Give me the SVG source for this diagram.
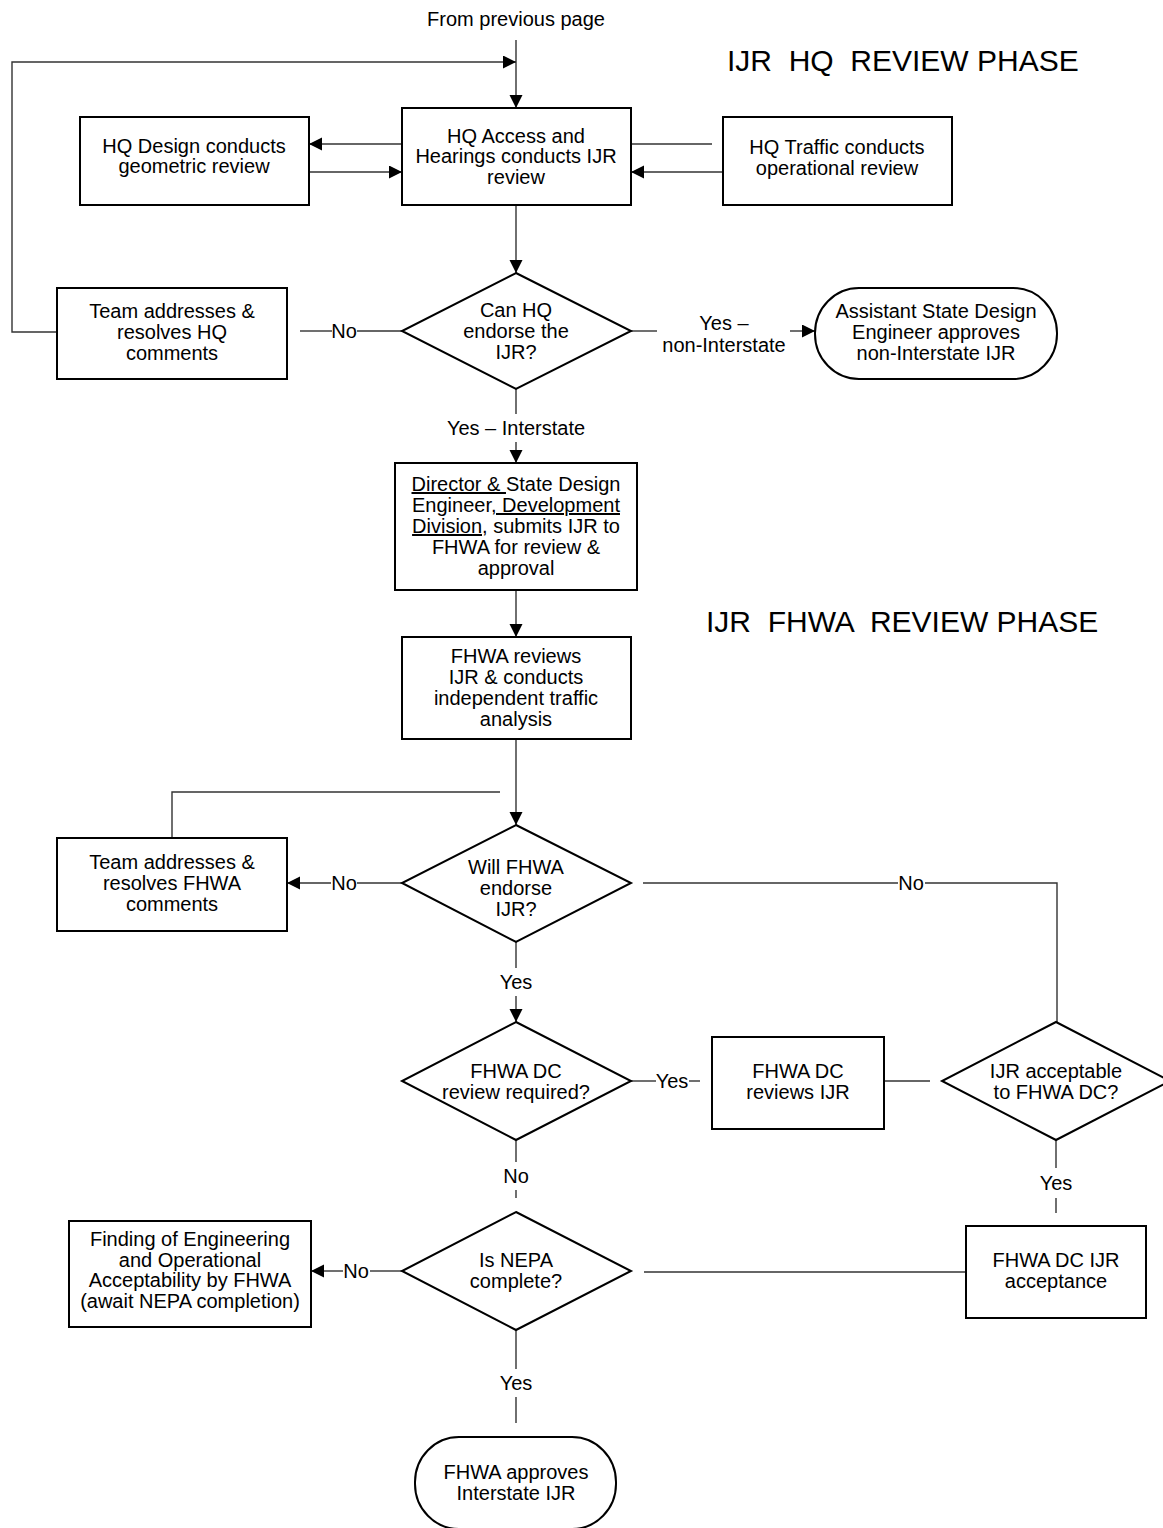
<svg xmlns="http://www.w3.org/2000/svg" width="1163" height="1528" viewBox="0 0 1163 1528">
<defs>
<marker id="ah" markerUnits="userSpaceOnUse" markerWidth="14" markerHeight="14" refX="13" refY="6.5" orient="auto">
<path d="M0,0 L13,6.5 L0,13 z" fill="#000"/>
</marker>
</defs>
<style>
.node rect, .node polygon {fill:#fff; stroke:#000; stroke-width:2}
text {font-family:"Liberation Sans", Arial, sans-serif; font-size:20px; fill:#000; text-anchor:middle}
.title {font-size:30px; text-anchor:start; white-space:pre}
.c line, .c path {stroke:#333; stroke-width:1.4; fill:none}
.a {marker-end:url(#ah)}
.u {text-decoration:underline}
</style>
<rect width="1163" height="1528" fill="#fff"/>

<text x="516" y="26">From previous page</text>
<text class="title" x="727" y="71" xml:space="preserve">IJR  HQ  REVIEW PHASE</text>
<text class="title" x="706" y="632" xml:space="preserve">IJR  FHWA  REVIEW PHASE</text>

<g id="connectors" class="c">
<line class="a" x1="516" y1="40" x2="516" y2="108"/>
<path class="a" d="M57,332 H12 V62 H516"/>
<line class="a" x1="402" y1="144" x2="309" y2="144"/>
<line class="a" x1="309" y1="172" x2="402" y2="172"/>
<line x1="631" y1="144" x2="712" y2="144"/>
<line class="a" x1="723" y1="172" x2="631" y2="172"/>
<line class="a" x1="516" y1="205" x2="516" y2="273"/>
<line x1="300" y1="331" x2="332" y2="331"/>
<line x1="357" y1="331" x2="402" y2="331"/>
<line x1="631" y1="331" x2="657" y2="331"/>
<line class="a" x1="790" y1="331" x2="815" y2="331"/>
<line x1="516" y1="389" x2="516" y2="414"/>
<line class="a" x1="516" y1="442" x2="516" y2="463"/>
<line class="a" x1="516" y1="590" x2="516" y2="637"/>
<line class="a" x1="516" y1="739" x2="516" y2="825"/>
<path d="M172,838 V792 H500"/>
<line x1="402" y1="883" x2="357" y2="883"/>
<line class="a" x1="331" y1="883" x2="287" y2="883"/>
<line x1="643" y1="883" x2="898" y2="883"/>
<path d="M925,883 H1057 V1022"/>
<line x1="516" y1="942" x2="516" y2="968"/>
<line class="a" x1="516" y1="996" x2="516" y2="1022"/>
<line x1="631" y1="1081" x2="656" y2="1081"/>
<line x1="689" y1="1081" x2="700" y2="1081"/>
<line x1="884" y1="1081" x2="930" y2="1081"/>
<line x1="1056" y1="1140" x2="1056" y2="1168"/>
<line x1="1056" y1="1198" x2="1056" y2="1213"/>
<line x1="966" y1="1272" x2="644" y2="1272"/>
<line x1="516" y1="1140" x2="516" y2="1162"/>
<line x1="516" y1="1190" x2="516" y2="1198"/>
<line x1="402" y1="1271" x2="370" y2="1271"/>
<line class="a" x1="343" y1="1271" x2="311" y2="1271"/>
<line x1="516" y1="1330" x2="516" y2="1369"/>
<line x1="516" y1="1397" x2="516" y2="1423"/>
<text x="344" y="338">No</text>
<text x="724" y="330">Yes –</text>
<text x="724" y="352">non-Interstate</text>
<text x="516" y="435">Yes – Interstate</text>
<text x="344" y="890">No</text>
<text x="911" y="890">No</text>
<text x="516" y="989">Yes</text>
<text x="672" y="1088">Yes</text>
<text x="1056" y="1190">Yes</text>
<text x="516" y="1183">No</text>
<text x="356" y="1278">No</text>
<text x="516" y="1390">Yes</text>
</g>

<g id="hq-design" class="node">
<rect x="80" y="117" width="229" height="88"/>
<text x="194" y="153">HQ Design conducts</text>
<text x="194" y="173">geometric review</text>
</g>
<g id="hq-access" class="node">
<rect x="402" y="108" width="229" height="97"/>
<text x="516" y="143">HQ Access and</text>
<text x="516" y="163">Hearings conducts IJR</text>
<text x="516" y="184">review</text>
</g>
<g id="hq-traffic" class="node">
<rect x="723" y="117" width="229" height="88"/>
<text x="837" y="154">HQ Traffic conducts</text>
<text x="837" y="175">operational review</text>
</g>
<g id="hq-endorse" class="node">
<polygon points="516,273 631,331 516,389 402,331"/>
<text x="516" y="317">Can HQ</text>
<text x="516" y="338">endorse the</text>
<text x="516" y="359">IJR?</text>
</g>
<g id="team-hq" class="node">
<rect x="57" y="288" width="230" height="91"/>
<text x="172" y="318">Team addresses &amp;</text>
<text x="172" y="339">resolves HQ</text>
<text x="172" y="360">comments</text>
</g>
<g id="asde" class="node">
<rect x="815" y="288" width="242" height="91" rx="44" ry="45"/>
<text x="936" y="318">Assistant State Design</text>
<text x="936" y="339">Engineer approves</text>
<text x="936" y="360">non-Interstate IJR</text>
</g>
<g id="director" class="node">
<rect x="395" y="463" width="242" height="127"/>
<text x="516" y="491"><tspan class="u">Director &amp; </tspan>State Design</text>
<text x="516" y="512">Engineer<tspan class="u">, Development</tspan></text>
<text x="516" y="533"><tspan class="u">Division,</tspan> submits IJR to</text>
<text x="516" y="554">FHWA for review &amp;</text>
<text x="516" y="575">approval</text>
</g>
<g id="fhwa-reviews" class="node">
<rect x="402" y="637" width="229" height="102"/>
<text x="516" y="663">FHWA reviews</text>
<text x="516" y="684">IJR &amp; conducts</text>
<text x="516" y="705">independent traffic</text>
<text x="516" y="726">analysis</text>
</g>
<g id="fhwa-endorse" class="node">
<polygon points="516,825 631,883 516,942 402,883"/>
<text x="516" y="874">Will FHWA</text>
<text x="516" y="895">endorse</text>
<text x="516" y="916">IJR?</text>
</g>
<g id="team-fhwa" class="node">
<rect x="57" y="838" width="230" height="93"/>
<text x="172" y="869">Team addresses &amp;</text>
<text x="172" y="890">resolves FHWA</text>
<text x="172" y="911">comments</text>
</g>
<g id="dc-required" class="node">
<polygon points="516,1022 631,1081 516,1140 402,1081"/>
<text x="516" y="1078">FHWA DC</text>
<text x="516" y="1099">review required?</text>
</g>
<g id="dc-reviews" class="node">
<rect x="712" y="1037" width="172" height="92"/>
<text x="798" y="1078">FHWA DC</text>
<text x="798" y="1099">reviews IJR</text>
</g>
<g id="dc-acceptable" class="node">
<polygon points="1056,1022 1170,1081 1056,1140 942,1081"/>
<text x="1056" y="1078">IJR acceptable</text>
<text x="1056" y="1099">to FHWA DC?</text>
</g>
<g id="dc-acceptance" class="node">
<rect x="966" y="1226" width="180" height="92"/>
<text x="1056" y="1267">FHWA DC IJR</text>
<text x="1056" y="1288">acceptance</text>
</g>
<g id="nepa" class="node">
<polygon points="516,1212 631,1271 516,1330 402,1271"/>
<text x="516" y="1267">Is NEPA</text>
<text x="516" y="1288">complete?</text>
</g>
<g id="finding" class="node">
<rect x="69" y="1221" width="242" height="106"/>
<text x="190" y="1246">Finding of Engineering</text>
<text x="190" y="1267">and Operational</text>
<text x="190" y="1287">Acceptability by FHWA</text>
<text x="190" y="1308">(await NEPA completion)</text>
</g>
<g id="fhwa-approves" class="node">
<rect x="415" y="1437" width="201" height="92" rx="44" ry="45"/>
<text x="516" y="1479">FHWA approves</text>
<text x="516" y="1500">Interstate IJR</text>
</g>
</svg>
